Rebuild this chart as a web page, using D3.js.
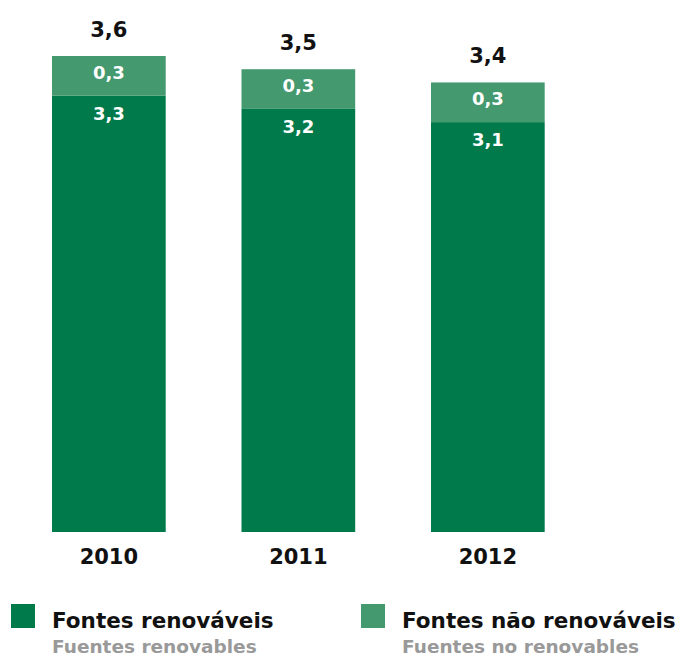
<!DOCTYPE html>
<html>
<head>
<meta charset="utf-8">
<script src="https://cdn.jsdelivr.net/npm/d3@7"></script>
<style>
  body { margin: 0; background: #fff; }
  svg { display: block; font-family: "DejaVu Sans", sans-serif; }
</style>
</head>
<body>
<svg id="chart" width="681" height="658"></svg>
<script>
// Energy by source, per year
const years = ["2010", "2011", "2012"];
const renewable = [3.3, 3.2, 3.1];
const nonRenewable = [0.3, 0.3, 0.3];
const totals = [3.6, 3.5, 3.4];

const seriesNames = ["Fontes renováveis", "Fontes não renováveis"];
const seriesSubNames = ["Fuentes renovables", "Fuentes no renovables"];
const colors = ["#007a4a", "#44996f"];

const fmt = v => d3.format(".1f")(v).replace(".", ",");

const svg = d3.select("#chart");

const x = d3.scaleBand().domain(years).range([52, 544.7]).paddingInner(0.4).paddingOuter(0);
const y = d3.scaleLinear().domain([0, 3.6]).range([532, 56]);

const rows = years.map((yr, i) => ({ year: yr, renewable: renewable[i], nonRenewable: nonRenewable[i], total: totals[i] }));
const stack = d3.stack().keys(["renewable", "nonRenewable"])(rows);

const g = svg.append("g");

stack.forEach((layer, li) => {
  g.selectAll(null).data(layer).join("rect")
    .attr("x", d => x(d.data.year))
    .attr("width", x.bandwidth())
    .attr("y", d => y(d[1]))
    .attr("height", d => y(d[0]) - y(d[1]))
    .attr("fill", colors[li]);
});

// Non-renewable segment labels
g.selectAll(null).data(stack[1]).join("text")
  .attr("x", d => x(d.data.year) + x.bandwidth() / 2)
  .attr("y", d => y(d[1]) + 23)
  .attr("text-anchor", "middle")
  .attr("fill", "#fff")
  .attr("font-weight", 700)
  .attr("font-size", 18)
  .text(d => fmt(d.data.nonRenewable));

// Renewable labels near the top of the segment
g.selectAll(null).data(stack[0]).join("text")
  .attr("x", d => x(d.data.year) + x.bandwidth() / 2)
  .attr("y", d => y(d[1]) + 24)
  .attr("text-anchor", "middle")
  .attr("fill", "#fff")
  .attr("font-weight", 700)
  .attr("font-size", 18)
  .text(d => fmt(d.data.renewable));

// Totals above bars
g.selectAll(null).data(rows).join("text")
  .attr("x", d => x(d.year) + x.bandwidth() / 2)
  .attr("y", d => y(d.total) - 19)
  .attr("text-anchor", "middle")
  .attr("fill", "#111")
  .attr("font-weight", 700)
  .attr("font-size", 21)
  .text(d => fmt(d.total));

// Year axis
const axis = d3.axisBottom(x).tickSize(0).tickPadding(0);
const ax = svg.append("g").attr("transform", "translate(0,532)").call(axis);
ax.select(".domain").remove();
ax.selectAll("text")
  .attr("y", 32)
  .attr("dy", 0)
  .attr("fill", "#111")
  .attr("font-weight", 700)
  .attr("font-size", 21)
  .attr("font-family", "'DejaVu Sans', sans-serif");

// Legend
const legendX = [11, 361];
seriesNames.forEach((name, i) => {
  const lg = svg.append("g").attr("transform", `translate(${legendX[i]},0)`);
  lg.append("rect").attr("x", 0).attr("y", 604).attr("width", 24).attr("height", 24).attr("fill", colors[i]);
  lg.append("text").attr("x", 41).attr("y", 628)
    .attr("fill", "#111").attr("font-weight", 700).attr("font-size", 21.5).text(name);
  lg.append("text").attr("x", 41).attr("y", 653)
    .attr("fill", "#999").attr("font-weight", 700).attr("font-size", 18.5).text(seriesSubNames[i]);
});
</script>
</body>
</html>
